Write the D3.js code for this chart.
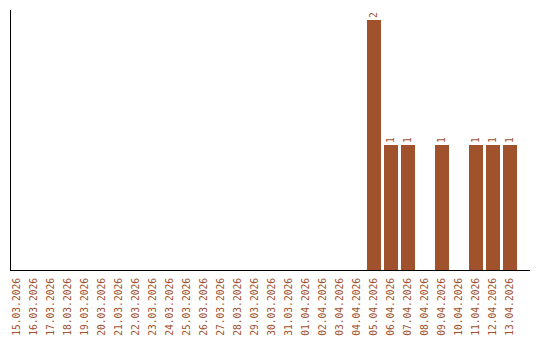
<!DOCTYPE html>
<html>
<head>
<meta charset="utf-8">
<script src="https://cdn.jsdelivr.net/npm/d3@7"></script>
<style>
  html, body { margin: 0; padding: 0; background: #fff; }
  svg { display: block; }
</style>
</head>
<body>
<div id="chart"></div>
<script>
// ── Data ─────────────────────────────────────────────
const dates = [
  '15.03.2026', '16.03.2026', '17.03.2026', '18.03.2026', '19.03.2026',
  '20.03.2026', '21.03.2026', '22.03.2026', '23.03.2026', '24.03.2026',
  '25.03.2026', '26.03.2026', '27.03.2026', '28.03.2026', '29.03.2026',
  '30.03.2026', '31.03.2026', '01.04.2026', '02.04.2026', '03.04.2026',
  '04.04.2026', '05.04.2026', '06.04.2026', '07.04.2026', '08.04.2026',
  '09.04.2026', '10.04.2026', '11.04.2026', '12.04.2026', '13.04.2026'
];
const counts = [
  0, 0, 0, 0, 0, 0, 0, 0, 0, 0,
  0, 0, 0, 0, 0, 0, 0, 0, 0, 0,
  0, 2, 1, 1, 0, 1, 0, 1, 1, 1
];

const width = 540, height = 340;
const color = '#a0522d';
const font = '"DejaVu Sans Mono", monospace';

const svg = d3.select('#chart').append('svg')
  .attr('width', width)
  .attr('height', height);

const axisX0 = 11, axisX1 = 530, axisTop = 10, baseY = 270;

const x = d3.scaleBand()
  .domain(dates)
  .range([10, 517])
  .paddingInner(3 / 17)
  .paddingOuter(0);

const y = d3.scaleLinear()
  .domain([0, 2])
  .range([baseY, 20]);

// ── Bars ─────────────────────────────────────────────
const data = dates.map((d, i) => ({ date: d, value: counts[i] }));
const shown = data.filter(d => d.value > 0);

svg.append('g').selectAll('rect')
  .data(shown)
  .join('rect')
  .attr('x', d => x(d.date))
  .attr('y', d => y(d.value))
  .attr('width', x.bandwidth())
  .attr('height', d => baseY - y(d.value))
  .attr('fill', color);

// value labels, rotated above each bar
svg.append('g').selectAll('text')
  .data(shown)
  .join('text')
  .attr('transform', d => `translate(${x(d.date) + x.bandwidth() / 2},${y(d.value) - 2}) rotate(-90)`)
  .attr('dy', '0.35em')
  .attr('text-anchor', 'start')
  .attr('fill', color)
  .attr('font-family', font)
  .attr('font-size', 9.6)
  .text(d => d.value);

// ── Axes ─────────────────────────────────────────────
svg.append('line')
  .attr('x1', axisX0 - 0.5).attr('x2', axisX0 - 0.5)
  .attr('y1', axisTop).attr('y2', baseY + 0.5)
  .attr('stroke', '#000');

svg.append('line')
  .attr('x1', axisX0 - 1).attr('x2', axisX1)
  .attr('y1', baseY + 0.5).attr('y2', baseY + 0.5)
  .attr('stroke', '#000');

const xAxis = svg.append('g')
  .attr('transform', `translate(0,${baseY})`)
  .call(d3.axisBottom(x).tickSize(0).tickPadding(0));

xAxis.select('.domain').remove();
xAxis.selectAll('.tick text')
  .attr('transform', 'translate(0,8) rotate(-90)')
  .attr('x', 0)
  .attr('y', 0)
  .attr('dy', '0.35em')
  .attr('text-anchor', 'end')
  .attr('fill', color)
  .attr('font-family', font)
  .attr('font-size', 9.6);
</script>
</body>
</html>
